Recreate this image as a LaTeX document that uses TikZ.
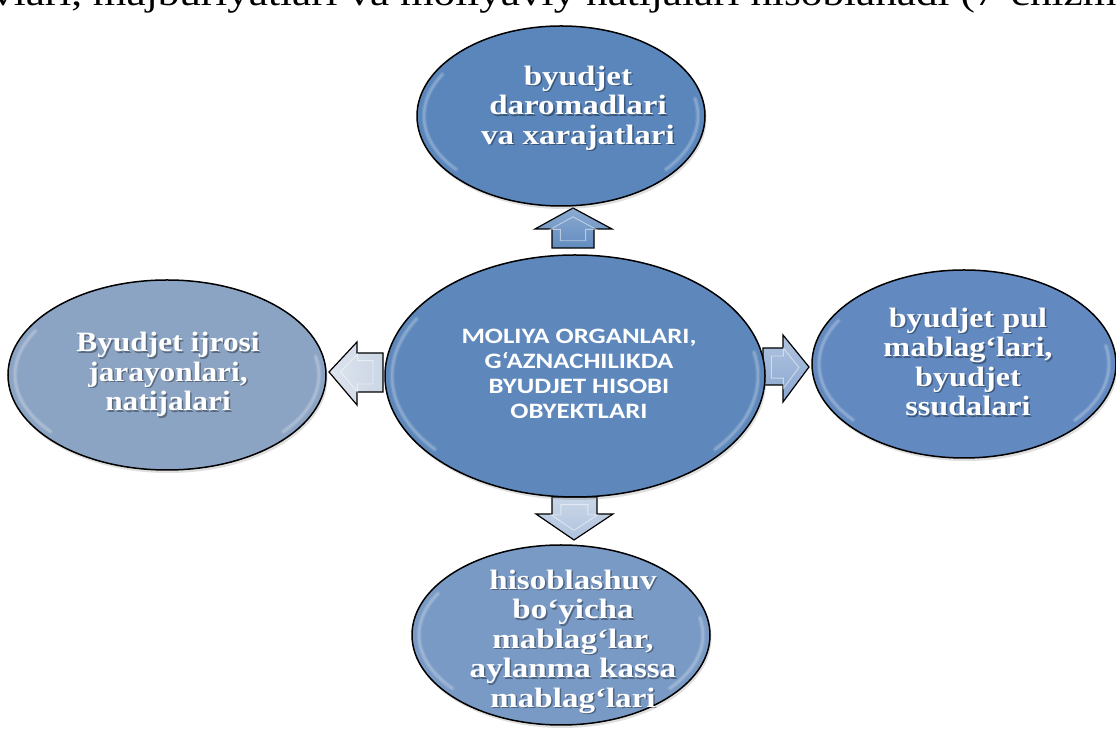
\documentclass[tikz,border=0pt]{standalone}
\usepackage{graphicx}
\usepackage{fontspec}
\setmainfont{Liberation Serif}
\newfontfamily\hubfont{Carlito}
\usetikzlibrary{shapes.geometric,shadows}

% fills of the five ovals
\definecolor{ovalTop}{HTML}{5A86BC}
\definecolor{ovalHub}{HTML}{5E88BC}
\definecolor{ovalLeft}{HTML}{8CA4C4}
\definecolor{ovalRight}{HTML}{6289C0}
\definecolor{ovalBottom}{HTML}{7A9AC6}

% multi-line oval caption, widened horizontally
\newcommand\widelines[2]{\scalebox{#1}[1]{\begin{tabular}{@{}c@{}}#2\end{tabular}}}

% soft light band just inside an oval's border
\newcommand\rimglow[3]{%
  \foreach \w/\o in {5/0.10, 2.5/0.18}{%
    \draw[rim, line width=\w pt, opacity=\o, shift={(#1.center)}] ({(#2-7)*cos(150)},{(#3-7)*sin(150)})
      arc[start angle=150,end angle=220,x radius=#2-7,y radius=#3-7];
    \draw[rim, line width=\w pt, opacity=\o, shift={(#1.center)}] ({(#2-7)*cos(-40)},{(#3-7)*sin(-40)})
      arc[start angle=-40,end angle=12,x radius=#2-7,y radius=#3-7];}}

% block arrow outlines
\newcommand\uparrowpath{(552,482) -- (552,501) -- (535,501) -- (573,522) -- (612,501) -- (594,501) -- (594,482) -- cycle}
\newcommand\leftarrowpath{(383,377) -- (357,377) -- (357,388) -- (329,358) -- (357,325) -- (357,338) -- (383,338) -- cycle}
\newcommand\rightarrowpath{(763,382) -- (783,382) -- (783,395) -- (809,363) -- (783,328) -- (783,345) -- (763,345) -- cycle}
\newcommand\downarrowpath{(552,233) -- (552,216) -- (536,216) -- (574,190) -- (613,216) -- (597,216) -- (597,233) -- cycle}

\begin{document}
\begin{tikzpicture}[x=1pt,y=1pt,
  oval/.style={ellipse, draw=black, line width=1.5pt, inner sep=0pt,
    drop shadow={opacity=0.25,shadow xshift=1.5pt,shadow yshift=-3pt}},
  rim/.style={white, line cap=round},
  ovaltext/.style={font=\fontsize{28}{29.5}\selectfont\bfseries, text=white, inner sep=0pt},
  ovalshade/.style={ovaltext, text=black, opacity=0.35},
  hubtext/.style={font=\hubfont\fontsize{22}{25}\selectfont\bfseries, text=white, inner sep=0pt},
  blockarrow/.style={draw=black, line width=1.2pt, line join=miter},
  bevel/.style={draw=white, opacity=0.5, line width=0.9pt, fill=none}
]
\useasboundingbox (0,0) rectangle (1116,730);
\clip (0,0) rectangle (1116,730);
\fill[white] (0,0) rectangle (1116,730);

% running text of the page, cut by the top edge
\node[anchor=base west, inner sep=0pt, font=\fontsize{36}{40}\selectfont] (runtext) at (-8,724)
  {\scalebox{1.2}[1]{vlari, majburiyatlari va moliyaviy natijalari hisoblanadi (7-chizm}};

% block arrows
\draw[blockarrow, top color=ovalTop!70!white, bottom color=ovalTop!95!white] \uparrowpath;
\begin{scope}[shift={(573,500)}, scale=0.6, shift={(-573,-500)}]
  \draw[bevel] \uparrowpath;
\end{scope}
\draw[blockarrow, left color=ovalLeft!30!white, right color=ovalLeft!45!white] \leftarrowpath;
\begin{scope}[shift={(358,358)}, scale=0.6, shift={(-358,-358)}]
  \draw[bevel] \leftarrowpath;
\end{scope}
\draw[blockarrow, top color=ovalRight!50!white, bottom color=ovalRight!75!white] \rightarrowpath;
\begin{scope}[shift={(784,362)}, scale=0.6, shift={(-784,-362)}]
  \draw[bevel] \rightarrowpath;
\end{scope}
\draw[blockarrow, top color=ovalBottom!40!white, bottom color=ovalBottom!60!white] \downarrowpath;
\begin{scope}[shift={(574,214)}, scale=0.6, shift={(-574,-214)}]
  \draw[bevel] \downarrowpath;
\end{scope}

% ovals
\node[oval, fill=ovalTop, minimum width=288pt, minimum height=180pt] (top) at (561,614) {};
\node[oval, fill=ovalHub, minimum width=380pt, minimum height=242pt] (hub) at (575,354) {};
\node[oval, fill=ovalLeft, minimum width=318pt, minimum height=190pt] (left) at (167,355) {};
\node[oval, fill=ovalRight, minimum width=304pt, minimum height=188pt] (right) at (964,366) {};
\node[oval, fill=ovalBottom, minimum width=298pt, minimum height=180pt] (bottom) at (561,95) {};

\rimglow{top}{144}{90}
\rimglow{hub}{190}{121}
\rimglow{left}{159}{95}
\rimglow{right}{152}{94}
\rimglow{bottom}{149}{90}

% captions
\node[ovalshade] (topS) at (579.5,619.5) {\widelines{1.18}{byudjet\\daromadlari\\va xarajatlari}};
\node[ovaltext] (topT) at (578,621) {\widelines{1.18}{byudjet\\daromadlari\\va xarajatlari}};

\node[hubtext] (hubT) at (579,354) {\widelines{1.22}{MOLIYA ORGANLARI,\\G‘AZNACHILIKDA\\BYUDJET HISOBI\\OBYEKTLARI}};

\node[ovalshade] (leftS) at (169.5,353) {\widelines{1.12}{Byudjet ijrosi\\jarayonlari,\\natijalari}};
\node[ovaltext] (leftT) at (168,354.5) {\widelines{1.12}{Byudjet ijrosi\\jarayonlari,\\natijalari}};

\node[ovalshade] (rightS) at (969.5,363) {\widelines{1.15}{byudjet pul\\mablag‘lari,\\byudjet\\ssudalari}};
\node[ovaltext] (rightT) at (968,364.5) {\widelines{1.15}{byudjet pul\\mablag‘lari,\\byudjet\\ssudalari}};

\node[ovalshade] (bottomS) at (574.5,86) {\widelines{1.18}{hisoblashuv\\bo‘yicha\\mablag‘lar,\\aylanma kassa\\mablag‘lari}};
\node[ovaltext] (bottomT) at (573,87.5) {\widelines{1.18}{hisoblashuv\\bo‘yicha\\mablag‘lar,\\aylanma kassa\\mablag‘lari}};
\end{tikzpicture}
\end{document}
